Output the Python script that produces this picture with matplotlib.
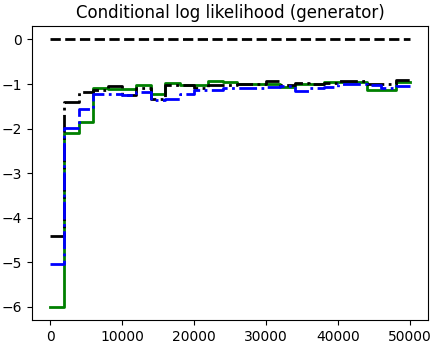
import numpy as np
import matplotlib
matplotlib.use('Agg')
import matplotlib.pyplot as plt

# iteration edges, one step every 2000
edges = np.arange(0, 50001, 2000)

# values per step (25 steps)
green = [-6.0, -2.10, -1.85, -1.08, -1.12, -1.12, -1.03, -1.22, -0.97, -1.03,
         -1.03, -0.94, -0.96, -0.99, -0.99, -0.99, -1.07, -0.99, -0.99, -0.96,
         -0.96, -0.96, -1.13, -1.13, -0.96]
black = [-4.42, -1.41, -1.19, -1.14, -1.05, -1.25, -1.10, -1.33, -1.03, -1.03,
         -1.10, -1.03, -1.03, -0.99, -0.99, -0.94, -1.03, -0.98, -0.99, -0.98,
         -0.94, -0.94, -1.00, -1.00, -0.90]
blue = [-5.05, -1.98, -1.55, -1.23, -1.22, -1.25, -1.18, -1.35, -1.33, -1.22,
        -1.13, -1.13, -1.08, -1.10, -1.10, -1.07, -1.05, -1.16, -1.08, -1.07,
        -1.00, -1.00, -1.03, -1.10, -1.05]
zero = [0.0] * len(edges)

fig = plt.figure(figsize=(4.39, 3.48), dpi=100)
ax = fig.add_axes([0.073, 0.080, 0.902, 0.845])

ax.plot(edges, zero, 'k--', lw=2)
ax.step(edges, np.append(green, green[-1]), where='post', color='green', ls='-', lw=2)
ax.step(edges, np.append(black, black[-1]), where='post', color='k', ls='-.', lw=2)
ax.step(edges, np.append(blue, blue[-1]), where='post', color='blue', ls='-.', lw=2)

ax.set_title('Conditional log likelihood (generator)')
fig.savefig('out.png', dpi=100)
